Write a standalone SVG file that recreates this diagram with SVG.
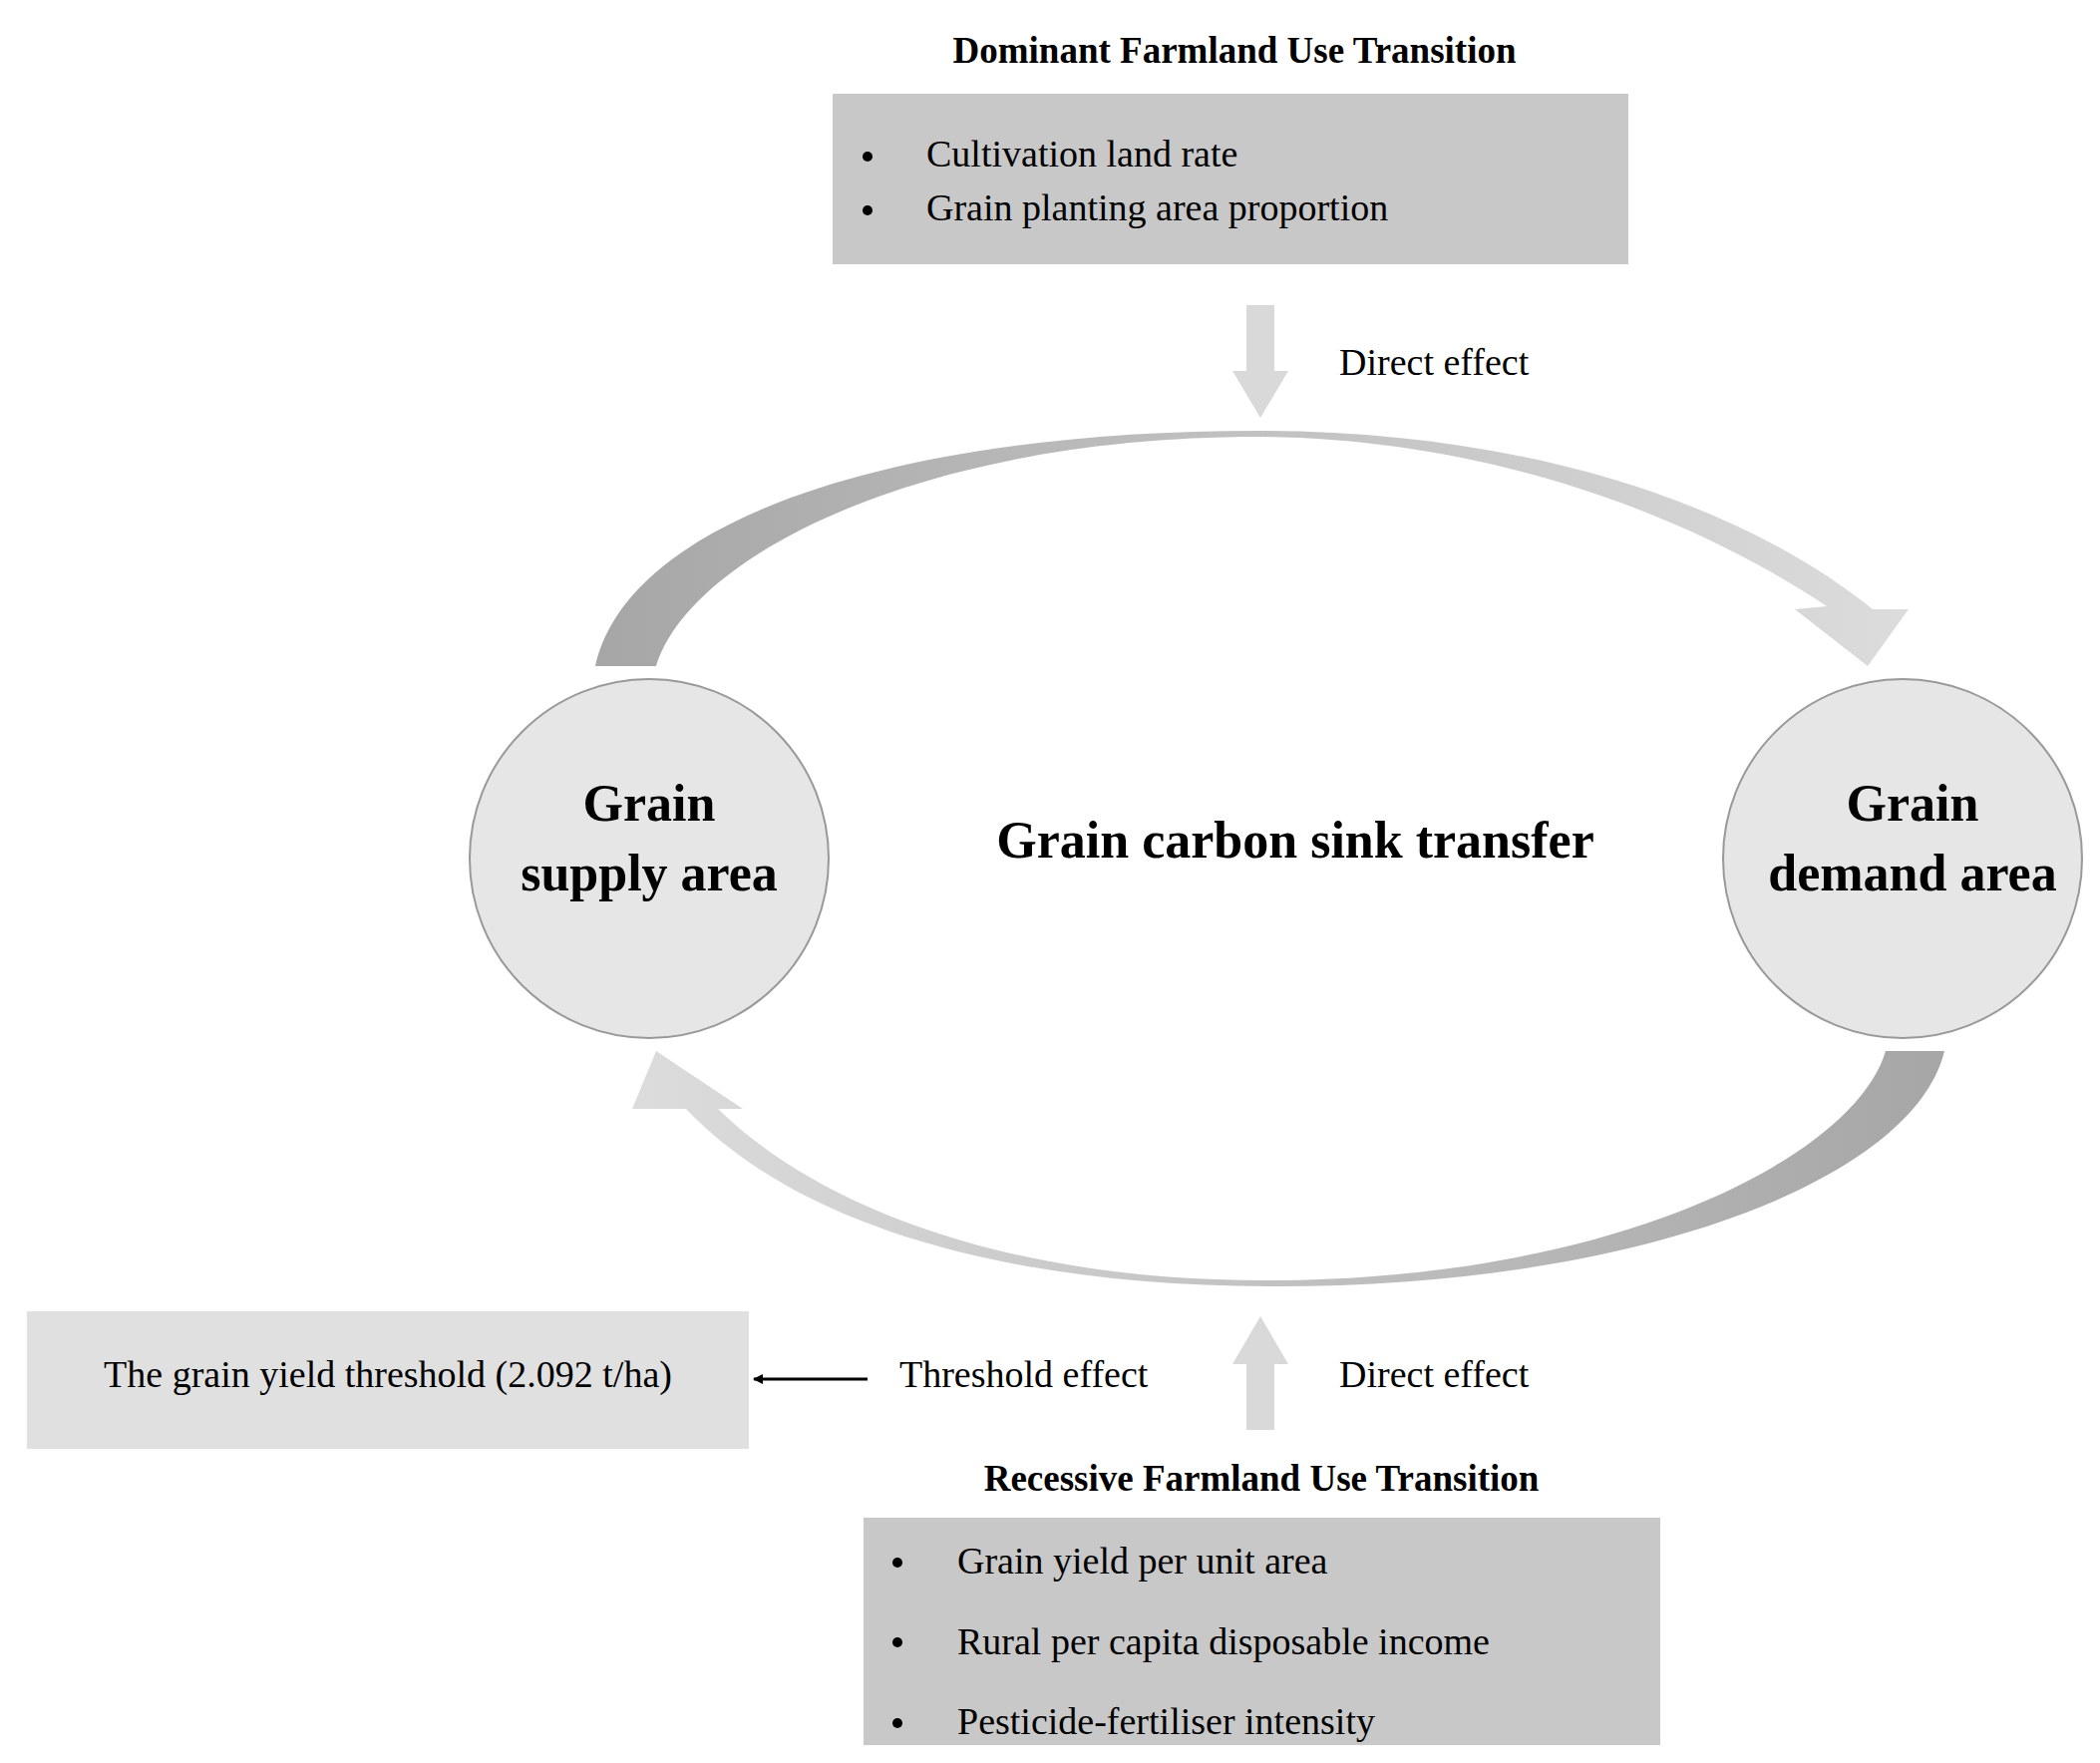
<svg xmlns="http://www.w3.org/2000/svg" width="2106" height="1768" viewBox="0 0 2106 1768">
<style>
text{font-family:"Liberation Serif",serif;fill:#000}
.b{font-weight:bold}
.t{font-size:38px}
.h{font-size:37px;font-weight:bold}
.c{font-size:52px;font-weight:bold}
.circ{fill:#e6e6e6;stroke:#999;stroke-width:2}
</style>
<defs>
<linearGradient id="g1" x1="597" y1="0" x2="1914" y2="0" gradientUnits="userSpaceOnUse"><stop offset="0" stop-color="#a6a6a6"/><stop offset="1" stop-color="#dcdcdc"/></linearGradient>
<linearGradient id="g2" x1="1950" y1="0" x2="634" y2="0" gradientUnits="userSpaceOnUse"><stop offset="0" stop-color="#a6a6a6"/><stop offset="1" stop-color="#dcdcdc"/></linearGradient>
<marker id="ah" markerWidth="10" markerHeight="10" refX="9" refY="5" orient="auto" markerUnits="userSpaceOnUse"><path d="M0,0 L10,5 L0,10 Z" fill="#000"/></marker>
</defs>
<rect width="2106" height="1768" fill="#fff"/>
<g id="dominant">
<text class="h" x="1238" y="63" text-anchor="middle">Dominant  Farmland Use Transition</text>
<rect x="835" y="94" width="798" height="171" fill="#c8c8c8"/>
<circle cx="870" cy="157" r="5"/><circle cx="870" cy="211" r="5"/>
<text class="t" x="929" y="167">Cultivation land rate</text>
<text class="t" x="929" y="221">Grain planting area proportion</text>
</g>
<g id="supply"><circle class="circ" cx="651" cy="861" r="180"/>
<text class="c" x="651" y="823" text-anchor="middle">Grain</text><text class="c" x="651" y="893" text-anchor="middle">supply area</text></g>
<g id="demand"><circle class="circ" cx="1908" cy="861" r="180"/>
<text class="c" x="1918" y="823" text-anchor="middle">Grain</text><text class="c" x="1918" y="893" text-anchor="middle">demand area</text></g>
<text class="c" x="1299" y="860" text-anchor="middle">Grain carbon sink transfer</text>
<g id="threshold"><rect x="27" y="1315" width="724" height="138" fill="#e0e0e0"/>
<text class="t" x="389" y="1391" text-anchor="middle">The grain yield threshold (2.092 t/ha)</text></g>
<g id="recessive">
<text class="h" x="1265" y="1495" text-anchor="middle">Recessive  Farmland Use Transition</text>
<rect x="866" y="1522" width="799" height="228" fill="#c8c8c8"/>
<circle cx="900" cy="1567" r="5"/><circle cx="900" cy="1647" r="5"/><circle cx="900" cy="1728" r="5"/>
<text class="t" x="960" y="1578">Grain yield per unit area</text>
<text class="t" x="960" y="1659">Rural per capita disposable income</text>
<text class="t" x="960" y="1739">Pesticide-fertiliser intensity</text>
</g>
<g id="connectors">
<path d="M597,668 L658,668 C690,560 920,438 1262,438 C1500,440 1700,520 1832,608 L1800,611 L1873,668 L1914,611 L1878,611 C1740,500 1520,432 1262,432 C900,432 630,520 597,668 Z" fill="url(#g1)"/>
<path d="M1950,1054 L1891,1054 C1860,1160 1620,1282 1280,1284 C1010,1286 820,1210 720,1112 L745,1112 L658,1054 L634,1112 L688,1112 C800,1230 1010,1290 1280,1290 C1650,1290 1920,1180 1950,1054 Z" fill="url(#g2)"/>
<path d="M1250,306 L1278,306 L1278,372 L1292,372 L1264,419 L1236,372 L1250,372 Z" fill="#d9d9d9"/>
<path d="M1250,1434 L1278,1434 L1278,1368 L1292,1368 L1264,1320 L1236,1368 L1250,1368 Z" fill="#d9d9d9"/>
<line x1="870" y1="1383" x2="756" y2="1383" stroke="#000" stroke-width="3" marker-end="url(#ah)"/>
<text class="t" x="1343" y="376">Direct effect</text>
<text class="t" x="1343" y="1391">Direct effect</text>
<text class="t" x="902" y="1391">Threshold effect</text>
</g>
</svg>
